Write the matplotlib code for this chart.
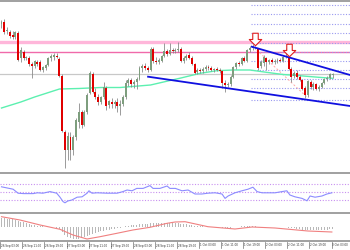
import matplotlib
matplotlib.use("Agg")
import matplotlib.pyplot as plt
from matplotlib.path import Path
import numpy as np

# ---------------- data (price in pips above chart floor) ----------------
opens = [148,150,141,140,137,135,139,114,120,114,114,108,106,110,110,102,104,107,114,115,
         116,113,96,40,22,35,22,35,50,60,47,60,79,98,80,75,70,75,84,67,
         70,68,70,66,68,75,89,92,88,90,93,104,106,104,102,123,111,110,111,116,
         121,118,122,121,122,123,111,114,117,114,108,100,102,101,103,105,104,102,103,102,
         101,89,87,88,95,105,109,108,114,111,122,124,125,123,106,109,114,110,112,110,
         111,112,111,115,115,103,96,99,95,92,84,77,90,85,88,83,85,89,93,94,97]
highs = [152,153,145,142,141,141,141,125,122,116,116,110,112,112,112,106,108,115,118,119,
         119,115,98,42,40,40,37,54,69,62,62,79,101,100,84,78,76,90,86,72,
         74,72,74,72,77,92,94,94,92,95,106,108,109,106,125,125,115,114,117,129,
         123,129,124,124,130,125,116,118,120,116,109,104,104,105,107,107,106,104,105,104,
         102,92,90,97,106,110,111,115,116,123,126,128,126,124,112,117,115,113,114,113,
         114,114,116,124,117,105,101,102,97,93,86,92,92,90,89,87,90,94,96,99,99]
lows = [144,138,138,134,133,133,111,110,112,112,106,94,104,106,101,100,102,106,111,112,
        114,95,40,4,12,12,17,32,44,44,46,58,78,79,73,67,68,73,62,64,
        64,64,60,57,66,73,86,85,84,83,92,100,102,100,101,109,108,108,110,115,
        116,117,119,119,120,110,109,112,113,107,98,98,99,99,101,102,101,100,101,99,
        84,80,85,86,94,103,106,107,110,110,120,122,123,102,104,106,102,108,109,108,
        109,110,110,114,102,90,94,93,91,82,74,75,83,82,82,81,84,88,91,93,94]
closes = [150,140,142,136,135,140,112,122,114,115,108,106,111,108,102,105,107,114,116,117,
          115,96,41,22,36,22,35,52,60,47,60,77,99,80,75,70,75,85,66,71,
          68,70,66,68,75,89,92,88,90,93,104,106,104,102,123,111,110,112,116,121,
          118,122,121,122,123,111,114,116,114,108,99,102,101,103,105,104,102,103,102,101,
          89,87,88,95,105,109,108,114,111,122,124,125,124,104,110,115,110,112,110,111,
          112,111,115,116,103,95,99,95,92,83,77,91,85,88,83,85,89,93,94,98,98]

# moving average (read at sample candles)
ma_idx = [0, 7, 12, 21, 28, 36, 43, 54, 65, 72, 78, 84, 90, 96, 102, 108, 115, 120]
ma_val = [64, 70, 75, 83, 83.5, 84.5, 84.5, 87, 94, 98.7, 101.3, 102, 102, 99.7, 97.5, 96.3, 94.7, 93.7]

# horizontal levels
res_thick = 130.3
res_thin = 120.5
grey_level = 98.5
fib_levels = [167, 158, 148, 139, 129, 120, 111, 102, 93, 84, 72]
fib_start = 90.5

# trend lines (candle index, price)
upper_x = [90.7, 126.3]
upper_v = [125.3, 97.0]
lower_x = [53.1, 126.3]
lower_v = [95.3, 66.0]
diag_x = [92.5, 111.0]
diag_v = [122.0, 74.0]

# arrows (candle index, price)
arrow_x = [92.0, 104.2]
arrow_v = [133.0, 122.5]

# RSI samples
rsi_idx = [0,4.2,6,8,11.5,13,15,17.6,20,21.2,22.3,23,24,25.5,27.4,29.2,31,31.7,32.8,34.6,
           38.2,41.9,44,45.5,47.3,49,51.3,53.8,54.9,57.4,60,61,63,65.4,67.6,70.1,72.6,74.8,77.4,79.9,
           81,82.1,84.6,87.1,89.3,91.1,92.6,94.4,96.6,99.1,101.6,103.4,104.5,106.3,108.9,110.7,111.8,113.6,116.1,117.9,119.7]
rsi_val = [63,57,47,46,46,48,47,51,47,37,26,23,27.5,30,37,38,47,53,47,48,
           47,47,51,55,53,59,59,66,59,59,65,59,59,53,55,45,45,47,48,45,
           34,40,48,53,57,62,51,48,48,48,51,53,42.5,38,34,28,40,37,40,45,48]
rsi_levels = [70, 50, 30]

# MACD histogram (per candle) and signal samples
macd_hist = [9,9,8,8,8,7,6,5,5,4,3,2,2,1,1,1,0,0,0,0,
             -1,-2,-5,-8,-10,-11,-12,-12,-12,-11,-10,-9,-8,-7,-6,-5,-4,-4,-3,-3,
             -2,-2,-1,-1,0,1,1,2,2,2,3,3,3,3,4,4,4,4,4,4,
             4,4,4,4,4,3,3,3,2,2,1,1,1,1,0,0,0,0,0,0,
             -1,-1,-1,-1,0,0,0,1,1,1,1,1,1,0,0,0,0,0,0,0,
             0,0,0,0,-1,-1,-1,-2,-2,-3,-3,-3,-3,-3,-3,-3,-3,-3,-3,-2,-2]
sig_idx = [0, 6.7, 14, 21.2, 25.9, 31, 35.7, 41.8, 47.6, 53.8, 60, 62.9, 66.5, 74.8, 84.6, 90.8, 99.1, 111, 119.7]
sig_val = [10.3, 7, 2, -2.3, -8, -12, -9.7, -6.3, -3, -0.3, 3.7, 5, 5.3, 0.3, -2, 0, -1, -4, -5]

time_labels = ["26 Sep 03:00", "26 Sep 11:00", "26 Sep 19:00", "27 Sep 03:00", "27 Sep 11:00",
               "27 Sep 19:00", "28 Sep 03:00", "28 Sep 11:00", "28 Sep 19:00", "1 Oct 03:00",
               "1 Oct 11:00", "1 Oct 19:00", "2 Oct 03:00", "2 Oct 11:00", "2 Oct 19:00", "3 Oct 03:00"]
label_step = 8

# ---------------- drawing ----------------
W, H = 350, 250
fig = plt.figure(figsize=(3.5, 2.5), dpi=100)
fig.patch.set_facecolor("white")
XL = (-0.543, 126.27)

ax = fig.add_axes([0, (H - 172) / H, 1, 171 / H])
ax_r = fig.add_axes([0, (H - 212) / H, 1, 39 / H])
ax_m = fig.add_axes([0, (H - 240) / H, 1, 27 / H])
for a in (ax, ax_r, ax_m):
    a.set_xlim(*XL)
    a.set_xticks([]); a.set_yticks([])
    for s in a.spines.values():
        s.set_visible(False)
    a.set_facecolor("white")

ax.set_ylim(0, 171)
n = len(opens)
x = np.arange(n)
o = np.array(opens); c = np.array(closes); hi = np.array(highs); lo = np.array(lows)
bull = c >= o
bull_col = "#7E9E7E"
bear_col = "#E00000"

# horizontal lines
ax.axhline(res_thick, color="#FFB6DA", lw=2.4, zorder=1)
ax.axhline(res_thin, color="#F06AAA", lw=1.0, zorder=1)
ax.axhline(grey_level, color="#C8C8C8", lw=0.9, zorder=1)
ax.hlines(fib_levels, fib_start, XL[1], colors="#9A9AF0", linestyles=(0, (1, 1.5)), lw=0.8, zorder=1)
ax.plot(diag_x, diag_v, color="#FFA8A8", lw=0.7, ls=(0, (2, 2)), zorder=1)

ax.plot(ma_idx, ma_val, color="#5CF0B0", lw=1.0, zorder=2)

ax.vlines(x, lo, hi, color="#8A8A8A", lw=0.6, zorder=3)
body_bottom = np.minimum(o, c)
body_h = np.maximum(np.abs(c - o), 0.6)
ax.bar(x[bull], body_h[bull], bottom=body_bottom[bull], width=0.72, color=bull_col, zorder=4, linewidth=0)
ax.bar(x[~bull], body_h[~bull], bottom=body_bottom[~bull], width=0.72, color=bear_col, zorder=4, linewidth=0)

ax.plot(upper_x, upper_v, color="#1010E0", lw=1.3, zorder=5)
ax.plot(lower_x, lower_v, color="#1010E0", lw=1.3, zorder=5)

arrow_path = Path([(-0.22, 0.5), (0.22, 0.5), (0.22, 0.0), (0.5, 0.0), (0.0, -0.5),
                   (-0.5, 0.0), (-0.22, 0.0), (-0.22, 0.5)],
                  [Path.MOVETO] + [Path.LINETO] * 6 + [Path.CLOSEPOLY])
ax.plot(arrow_x, arrow_v, ls="none", marker=arrow_path, markersize=9,
        markerfacecolor="white", markeredgecolor="#E02020", markeredgewidth=0.8, zorder=6)

# RSI
ax_r.set_ylim(0, 97.5)
ax_r.hlines(rsi_levels, XL[0], XL[1], colors="#C890F0", linestyles=(0, (1, 1.5)), lw=0.8)
ax_r.plot(rsi_idx, rsi_val, color="#8C8CFF", lw=0.8)

# MACD
ax_m.set_ylim(-13, 14)
ax_m.bar(x, macd_hist, width=0.35, color="#B8B8B8", linewidth=0)
ax_m.plot(sig_idx, sig_val, color="#F08080", lw=0.8)

# separators
for yy in (1, 172.5, 212.5, 240.5):
    fig.add_artist(plt.Line2D([0, 1], [(H - yy) / H] * 2, color="#A0A0A0", lw=1.4, transform=fig.transFigure))

# time axis
for k, lab in enumerate(time_labels):
    xi = k * label_step
    xp = (1.5 + 2.76 * xi - 1.2) / W
    fig.add_artist(plt.Line2D([xp, xp], [(H - 242) / H, (H - 248) / H], color="#707070", lw=0.5, transform=fig.transFigure))
    fig.text(xp + 0.8 / W, (H - 245.5) / H, lab, fontsize=2.0, color="#303030", va="center", ha="left")

fig.savefig("out.png", dpi=100, facecolor="white")
